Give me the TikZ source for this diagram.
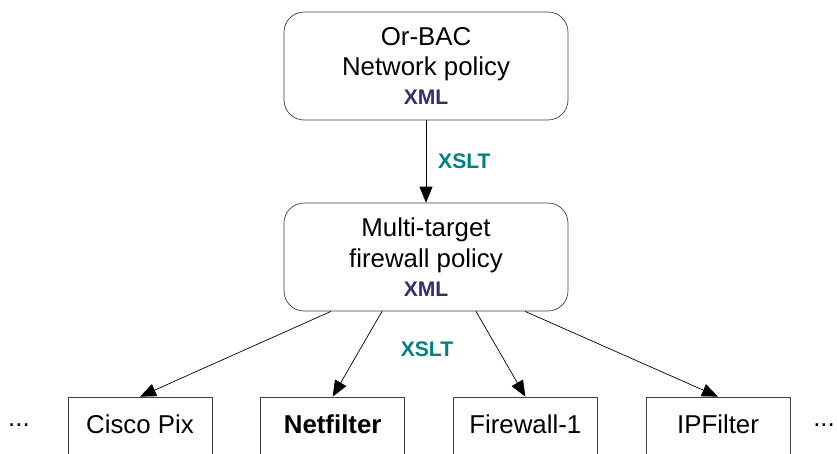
\documentclass[tikz,border=0pt]{standalone}
\usepackage{fontspec}
\setmainfont{Liberation Sans}
\usepackage{xcolor}
\usetikzlibrary{positioning,arrows.meta}
\definecolor{xmlblue}{HTML}{33336B}
\definecolor{xsltteal}{HTML}{00807F}
\definecolor{boxgray}{HTML}{404040}
\tikzset{
    policy-box/.style = {draw=boxgray, fill=white, rectangle, rounded corners=0.4cm, minimum width=5.68cm, minimum height=2.16cm, align=center, font=\fontsize{14.7}{17.5}\selectfont},
    target-box/.style = {draw=boxgray, fill=white, rectangle, minimum width=2.88cm, minimum height=1.2cm, text height=0.38cm, text depth=0.14cm, font=\fontsize{14.7}{17.5}\selectfont},
    xml-tag/.style = {text=xmlblue, font=\fontsize{12}{14}\selectfont\bfseries},
    xslt-label/.style = {text=xsltteal, font=\fontsize{12}{14}\selectfont\bfseries},
    conv-arrow/.style = {draw=black, thin, -{Triangle[length=0.32cm,width=0.26cm]}},
}
\newcommand{\xmltag}{\\[-1pt]{\fontsize{12}{14}\selectfont\bfseries\color{xmlblue}XML}}
\begin{document}
\begin{tikzpicture}[x=0.02cm,y=-0.02cm]
\useasboundingbox (0,0) rectangle (837,453);
\clip (0,0) rectangle (837,453);
\node [policy-box] (orbac) at (426,66) {Or-BAC\\Network policy\xmltag};
\node [policy-box] (multi) at (426,257) {Multi-target\\firewall policy\xmltag};
\node [target-box] (cisco) at (140,427) {Cisco Pix};
\node [target-box, right=0.96cm of cisco] (netfilter) {\bfseries Netfilter};
\node [target-box, right=0.96cm of netfilter] (fw1) {Firewall-1};
\node [target-box, right=0.96cm of fw1] (ipfilter) {IPFilter};
\node [font=\fontsize{14.7}{17.5}\selectfont] (dotsl) at (19,425) {...};
\node [font=\fontsize{14.7}{17.5}\selectfont] (dotsr) at (824,425) {...};
\draw [conv-arrow] (orbac.south) -- (multi.north) node [xslt-label, midway, right=0.12cm] {XSLT};
\draw [conv-arrow] ([xshift=-1.9cm]multi.south) -- (cisco.north);
\draw [conv-arrow] ([xshift=-0.88cm]multi.south) -- (netfilter.north);
\draw [conv-arrow] ([xshift=1cm]multi.south) -- (fw1.north);
\draw [conv-arrow] ([xshift=1.98cm]multi.south) -- (ipfilter.north);
\node [xslt-label] (xslt2) at (427,349) {XSLT};
\end{tikzpicture}
\end{document}
